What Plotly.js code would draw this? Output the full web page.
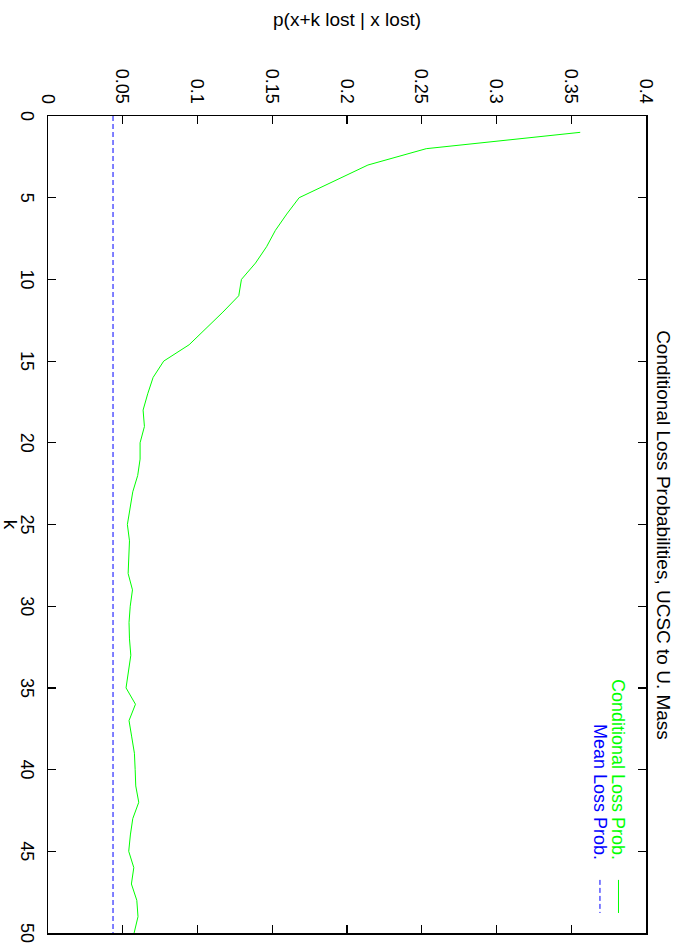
<!DOCTYPE html>
<html>
<head>
<meta charset="utf-8">
<script src="https://cdn.plot.ly/plotly-3.0.1.min.js"></script>
<style>
  html, body { margin: 0; padding: 0; background: #ffffff; overflow: hidden; width: 680px; height: 946px; }
  #plot { position: absolute; top: 0; left: 0; width: 946px; height: 680px;
          transform-origin: 0 0; transform: translateX(680px) rotate(90deg); }
</style>
</head>
<body>
<div id="plot"></div>
<script>
// ---- data ----
const kValues = [1, 2, 3, 4, 5, 6, 7, 8, 9, 10,
                 11, 12, 13, 14, 15, 16, 17, 18, 19, 20,
                 21, 22, 23, 24, 25, 26, 27, 28, 29, 30,
                 31, 32, 33, 34, 35, 36, 37, 38, 39, 40,
                 41, 42, 43, 44, 45, 46, 47, 48, 49, 50];
const condLossProb = [0.356, 0.253, 0.214, 0.1905, 0.168, 0.1597, 0.1521, 0.1462, 0.1388, 0.1294,
                      0.1276, 0.117, 0.1058, 0.0944, 0.0774, 0.0703, 0.0667, 0.0636, 0.0645, 0.0616,
                      0.0616, 0.0600, 0.0567, 0.0547, 0.0531, 0.0545, 0.0540, 0.0536, 0.0565, 0.0550,
                      0.0542, 0.0545, 0.0554, 0.0538, 0.0522, 0.0585, 0.0542, 0.0560, 0.0578, 0.0583,
                      0.0587, 0.0607, 0.0567, 0.0551, 0.0540, 0.0574, 0.0558, 0.0594, 0.0602, 0.0576];
const meanLossProb = 0.0435;
const meanLineK = [0, 50];
const kTickVals = [0, 5, 10, 15, 20, 25, 30, 35, 40, 45, 50];
const kTickText = ["0", "5", "10", "15", "20", "25", "30", "35", "40", "45", "50"];
const pTickVals = [0, 0.05, 0.1, 0.15, 0.2, 0.25, 0.3, 0.35, 0.4];
const pTickText = ["0", "0.05", "0.1", "0.15", "0.2", "0.25", "0.3", "0.35", "0.4"];
const seriesNames = ["Conditional Loss Prob.", "Mean Loss Prob."];
const chartTitle = "Conditional Loss Probabilities, UCSC to U. Mass";
const xTitle = "k";
const yTitle = "p(x+k lost | x lost)";

// ---- drawing ----
const FONT = "Liberation Sans, Arial, Helvetica, sans-serif";
const GREEN = "#00ff00", BLUE = "#0000ff";

const traces = [
  { x: kValues, y: condLossProb, type: "scatter", mode: "lines", name: seriesNames[0],
    line: { color: GREEN, width: 1 } },
  { x: meanLineK, y: meanLineK.map(() => meanLossProb), type: "scatter", mode: "lines", name: seriesNames[1],
    line: { color: BLUE, width: 1, dash: "5px,3px" } }
];

const axisCommon = {
  showline: true, linecolor: "#000000", linewidth: 1.5, mirror: "ticks",
  ticks: "inside", ticklen: 8, tickwidth: 1.2, tickcolor: "#000000",
  showgrid: false, zeroline: false, fixedrange: true,
  tickfont: { family: FONT, size: 18, color: "#000000" }
};

const layout = {
  width: 946, height: 680,
  margin: { l: 116, r: 13, t: 34, b: 48, pad: 0 },
  paper_bgcolor: "#ffffff", plot_bgcolor: "#ffffff",
  showlegend: false,
  font: { family: FONT, size: 18, color: "#000000" },
  title: { text: chartTitle, x: 535 / 946, xanchor: "center", xref: "container",
           y: 1 - 16 / 680, yanchor: "middle", yref: "container",
           font: { family: FONT, size: 19, color: "#000000" } },
  xaxis: Object.assign({}, axisCommon, {
    range: [0, 50], tickvals: kTickVals, ticktext: kTickText, ticklabelstandoff: 4,
    title: { text: xTitle, standoff: 11, font: { family: FONT, size: 19 } }
  }),
  yaxis: Object.assign({}, axisCommon, {
    range: [0, 0.4], tickvals: pTickVals, ticktext: pTickText, ticklabelstandoff: 7,
    title: { text: yTitle, standoff: 37, font: { family: FONT, size: 19 } }
  }),
  annotations: [
    { xref: "paper", yref: "paper", x: 0.913, y: 0.954, xanchor: "right", yanchor: "middle",
      text: seriesNames[0], showarrow: false, font: { family: FONT, size: 18, color: GREEN } },
    { xref: "paper", yref: "paper", x: 0.913, y: 0.923, xanchor: "right", yanchor: "middle",
      text: seriesNames[1], showarrow: false, font: { family: FONT, size: 18, color: BLUE } }
  ],
  shapes: [
    { type: "line", xref: "paper", yref: "paper", x0: 0.935, x1: 0.9755, y0: 0.954, y1: 0.954,
      line: { color: GREEN, width: 1 } },
    { type: "line", xref: "paper", yref: "paper", x0: 0.935, x1: 0.9755, y0: 0.923, y1: 0.923,
      line: { color: BLUE, width: 1, dash: "5px,3px" } }
  ]
};

Plotly.newPlot("plot", traces, layout, { staticPlot: true, displayModeBar: false });
</script>
</body>
</html>
